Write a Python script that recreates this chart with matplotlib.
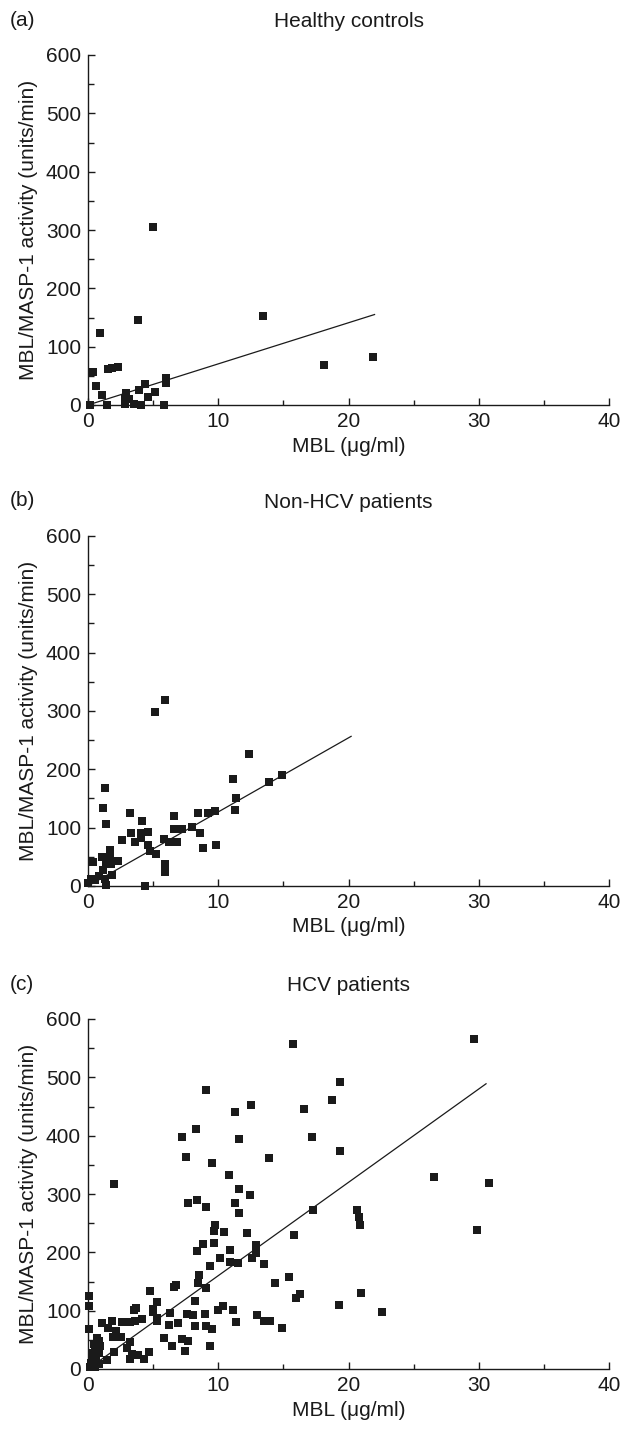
import matplotlib
matplotlib.use("Agg")
import matplotlib.pyplot as plt
from matplotlib.ticker import MultipleLocator

plt.rcParams['font.family'] = ['Liberation Sans', 'DejaVu Sans']

# (a) Healthy controls
a_x = [5.0, 3.87, 0.95, 13.4, 18.15, 21.9, 0.41, 1.56, 1.87, 2.33, 0.64, 1.1, 0.15, 1.48,
       2.95, 2.85, 2.85, 3.15, 3.56, 4.07, 3.94, 4.38, 4.63, 5.17, 5.86, 6.01, 6.01]
a_y = [306, 145, 123, 152, 68.6, 83, 56, 61.7, 63, 66, 32, 16.6, 0, 0,
       20, 11.5, 1, 11, 2, 0, 25.7, 35.4, 13.7, 22.3, 0, 47, 37.7]
a_fit = (7.05, 0.0, 22.0)   # slope, intercept, x end

# (b) Non-HCV patients
b_x = [5.95, 5.13, 12.34, 11.1, 14.87, 13.87, 11.34, 11.26, 1.28, 1.15, 1.35, 3.22, 4.11,
       6.59, 8.43, 9.2, 9.78, 3.27, 4.04, 4.6, 3.58, 4.09, 2.6, 5.8, 6.2, 6.82, 6.64, 6.95,
       7.23, 7.97, 8.58, 8.81, 9.81, 4.6, 4.78, 5.21, 5.9, 5.9, 4.37, 1.69, 1.66, 1.07, 1.35,
       1.74, 2.3, 0.38, 1.15, 0.84, 1.84, 1.33, 0.26, 0.56, 1.35, 1.53, 0.03]
b_y = [319, 298, 226, 183, 190, 178, 151, 130, 168, 133, 106, 125, 111,
       120, 125, 125, 128, 90.5, 90.5, 92, 75, 82, 79, 80, 75, 75, 98, 98,
       98, 101, 90.5, 64.7, 70, 70, 60, 55, 37, 23.5, 0, 61, 48, 50, 37,
       37, 43, 41, 27.5, 17, 18, 11.5, 12, 10, 2, 45, 4.6]
b_fit = (12.7, 0.0, 20.2)

# (c) HCV patients
c_x = [15.77, 19.36, 18.75, 16.6, 9.08, 12.55, 11.25, 8.27, 7.19, 11.56, 17.22, 7.5, 13.9,
       9.49, 19.36, 10.79, 1.99, 11.56, 12.47, 7.7, 8.39, 9.08, 11.3, 11.63, 17.3, 9.77, 9.64,
       10.46, 12.17, 15.84, 8.8, 9.64, 12.93, 8.34, 10.87, 10.1, 10.87, 11.48, 12.86, 12.6,
       9.34, 13.55, 8.5, 8.42, 9.08, 14.39, 15.46, 6.58, 6.76, 4.74, 5.28, 4.97, 4.97, 3.52,
       3.7, 0.08, 0.08, 0.08, 8.19, 10.38, 9.95, 11.15, 16.28, 15.94, 19.29, 6.33, 7.6, 8.09,
       8.95, 13.01, 11.33, 13.55, 14.0, 14.92, 4.13, 5.33, 5.28, 3.62, 3.24, 2.63, 2.93, 1.84,
       1.07, 1.53, 2.17, 1.94, 2.53, 6.25, 6.89, 8.24, 9.08, 9.49, 5.82, 6.43, 7.24, 7.65,
       7.42, 9.34, 3.21, 2.98, 3.39, 3.83, 4.29, 4.69, 3.21, 1.99, 1.45, 0.69, 0.84, 0.43,
       0.89, 0.51, 0.82, 0.38, 0.64, 0.26, 0.82, 0.13, 0.51, 0.33, 0.69,
       29.62, 26.55, 30.77, 20.64, 20.79, 20.87, 29.85, 20.95, 22.56]
c_y = [558, 492, 462, 446, 479, 452, 440, 412, 397, 395, 397, 363, 361,
       354, 374, 333, 317, 308, 299, 285, 290, 278.5, 284, 268, 273, 247.5, 237,
       235, 234, 230, 214, 216, 212.6, 203, 204.6, 190, 183, 181.6, 199, 190,
       176.5, 180, 161, 147, 139, 147, 157.6, 140, 144, 133.5, 114.6, 102.6, 98, 102,
       105.4, 125.5, 108, 68.8, 116.3, 107.7, 100.9, 100.9, 129, 122, 108.9, 95.7, 94.6, 92.3,
       94.6, 92.3, 80.2, 82, 82, 69.9, 85.4, 82, 88, 82.5, 80.2, 80.2, 80.2, 82,
       78.5, 69.9, 65.3, 55, 55, 75.6, 78.5, 73.4, 74, 68.8, 52.7, 39.5, 51, 47.6,
       30.4, 39.5, 45.8, 35.5, 25.8, 24, 17.2, 28.7, 17.2, 29.8, 15.5, 52.7, 48.1, 42.4,
       39.5, 32.7, 27, 21, 15.5, 9.7, 8.6, 4, 4, 27, 32.7,
       565, 329.5, 319, 272.8, 260.7, 247, 238.4, 130, 97.4]
c_fit = (16.0, 0.0, 30.56)

panels = [
    ("(a)", "Healthy controls", a_x, a_y, a_fit, 405),
    ("(b)", "Non-HCV patients", b_x, b_y, b_fit, 886),
    ("(c)", "HCV patients", c_x, c_y, c_fit, 1369),
]

W, H = 622, 1431
fig = plt.figure(figsize=(W / 100, H / 100), dpi=100)

ink = "#1a1a1a"
fs = 15
for tag, title, xs, ys, fit, base in panels:
    ax = fig.add_axes([88 / W, 1 - base / H, 521 / W, 350 / H])
    ax.scatter(xs, ys, marker="s", s=32, color=ink, linewidths=0, zorder=3, clip_on=False)
    slope, icpt, xend = fit
    ax.plot([0, xend], [icpt, icpt + slope * xend], color=ink, lw=0.9, zorder=2)
    ax.set_xlim(0, 40)
    ax.set_ylim(0, 600)
    ax.xaxis.set_major_locator(MultipleLocator(10))
    ax.xaxis.set_minor_locator(MultipleLocator(5))
    ax.yaxis.set_major_locator(MultipleLocator(100))
    ax.yaxis.set_minor_locator(MultipleLocator(50))
    for s in ("top", "right"):
        ax.spines[s].set_visible(False)
    for s in ("left", "bottom"):
        ax.spines[s].set_linewidth(1.0)
        ax.spines[s].set_color(ink)
    ax.tick_params(which="major", direction="in", length=5, width=1, labelsize=fs, pad=5, colors=ink)
    ax.tick_params(which="minor", direction="in", length=3.5, width=1, colors=ink)
    ax.tick_params(axis="y", which="minor", length=4.5)
    ax.set_xlabel("MBL (\u03bcg/ml)", fontsize=fs, labelpad=4, color=ink)
    ax.set_ylabel("MBL/MASP-1 activity (units/min)", fontsize=fs, labelpad=6, color=ink)
    ax.set_title(title, fontsize=fs, pad=20, color=ink)
    fig.text(10 / W, 1 - (base - 385) / H, tag, fontsize=fs, color=ink, va="center", ha="left")

fig.savefig("out.png", dpi=100)
